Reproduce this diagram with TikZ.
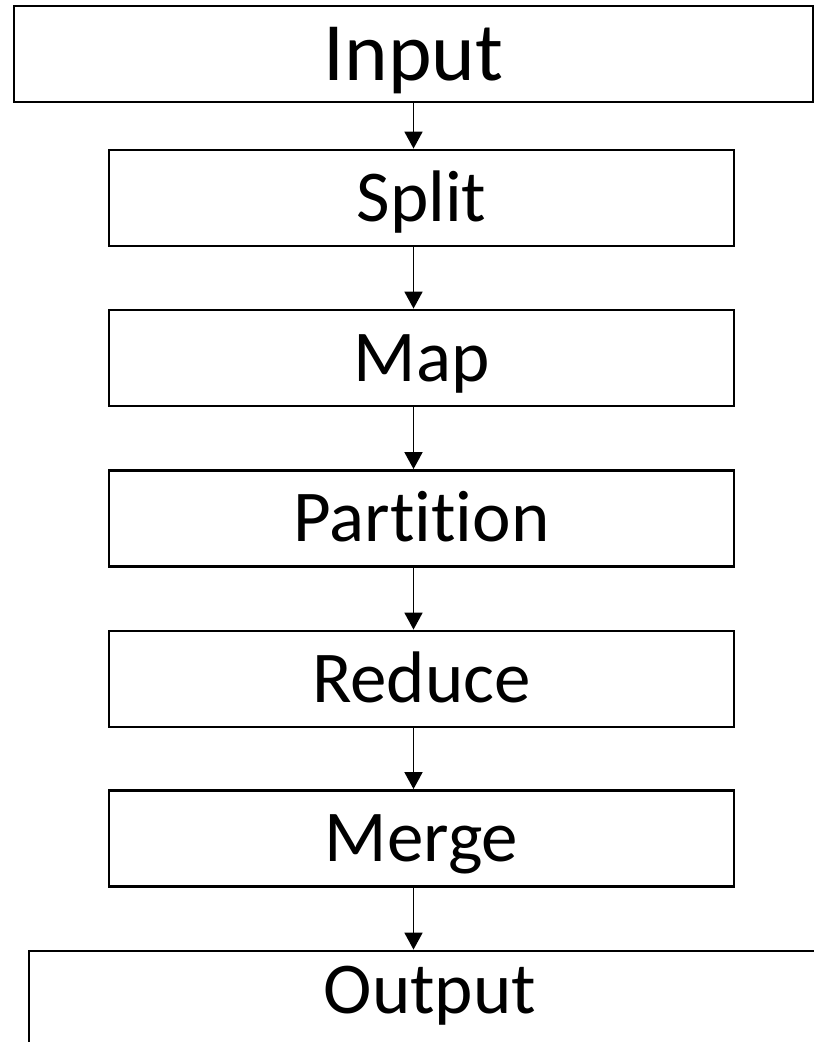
\documentclass[tikz,border=0pt]{standalone}
\usepackage{fontspec}
\setmainfont[Ligatures=NoCommon]{Carlito}
\usetikzlibrary{arrows.meta}

\tikzset{
  stage/.style={draw=black, line width=2.8pt, inner sep=0pt,
    minimum height=96pt, text height=47pt, text depth=0pt,
    font=\fontsize{73}{80}\selectfont},
  flow/.style={-{Triangle[width=18pt,length=17pt]}, line width=1.8pt},
}

\begin{document}
\begin{tikzpicture}[line join=miter]
  \useasboundingbox (0pt,0pt) rectangle (814pt,1042pt);
  \clip (0pt,0pt) rectangle (814pt,1042pt);
%%
  % Stages of the job, top to bottom
  \node[stage, minimum width=799pt, text height=53.5pt,
        font=\fontsize{83}{90}\selectfont] (input) at (413.5pt,988pt) {Input};
  \node[stage, minimum width=625pt] (split)     at (421.5pt,844pt)   {Split};
  \node[stage, minimum width=625pt] (map)       at (421.5pt,684pt)   {Map};
  \node[stage, minimum width=625pt] (partition) at (421.5pt,523.5pt) {Partition};
  \node[stage, minimum width=625pt] (reduce)    at (421.5pt,363pt)   {Reduce};
  \node[stage, minimum width=625pt] (merge)     at (421.5pt,203.5pt) {Merge};
  % Output runs past the page edge
  \node[stage, minimum width=802pt, minimum height=100pt,
        text depth=22pt] (output) at (430pt,41pt) {Output};
%%
  % Edges: all on the axis of the input box
  \draw[flow] (input.south) -- (input.south |- split.north);
  \draw[flow] (input.south |- split.south) -- (input.south |- map.north);
  \draw[flow] (input.south |- map.south) -- (input.south |- partition.north);
  \draw[flow] (input.south |- partition.south) -- (input.south |- reduce.north);
  \draw[flow] (input.south |- reduce.south) -- (input.south |- merge.north);
  \draw[flow] (input.south |- merge.south) -- (input.south |- output.north);
%
\end{tikzpicture}
\end{document}
